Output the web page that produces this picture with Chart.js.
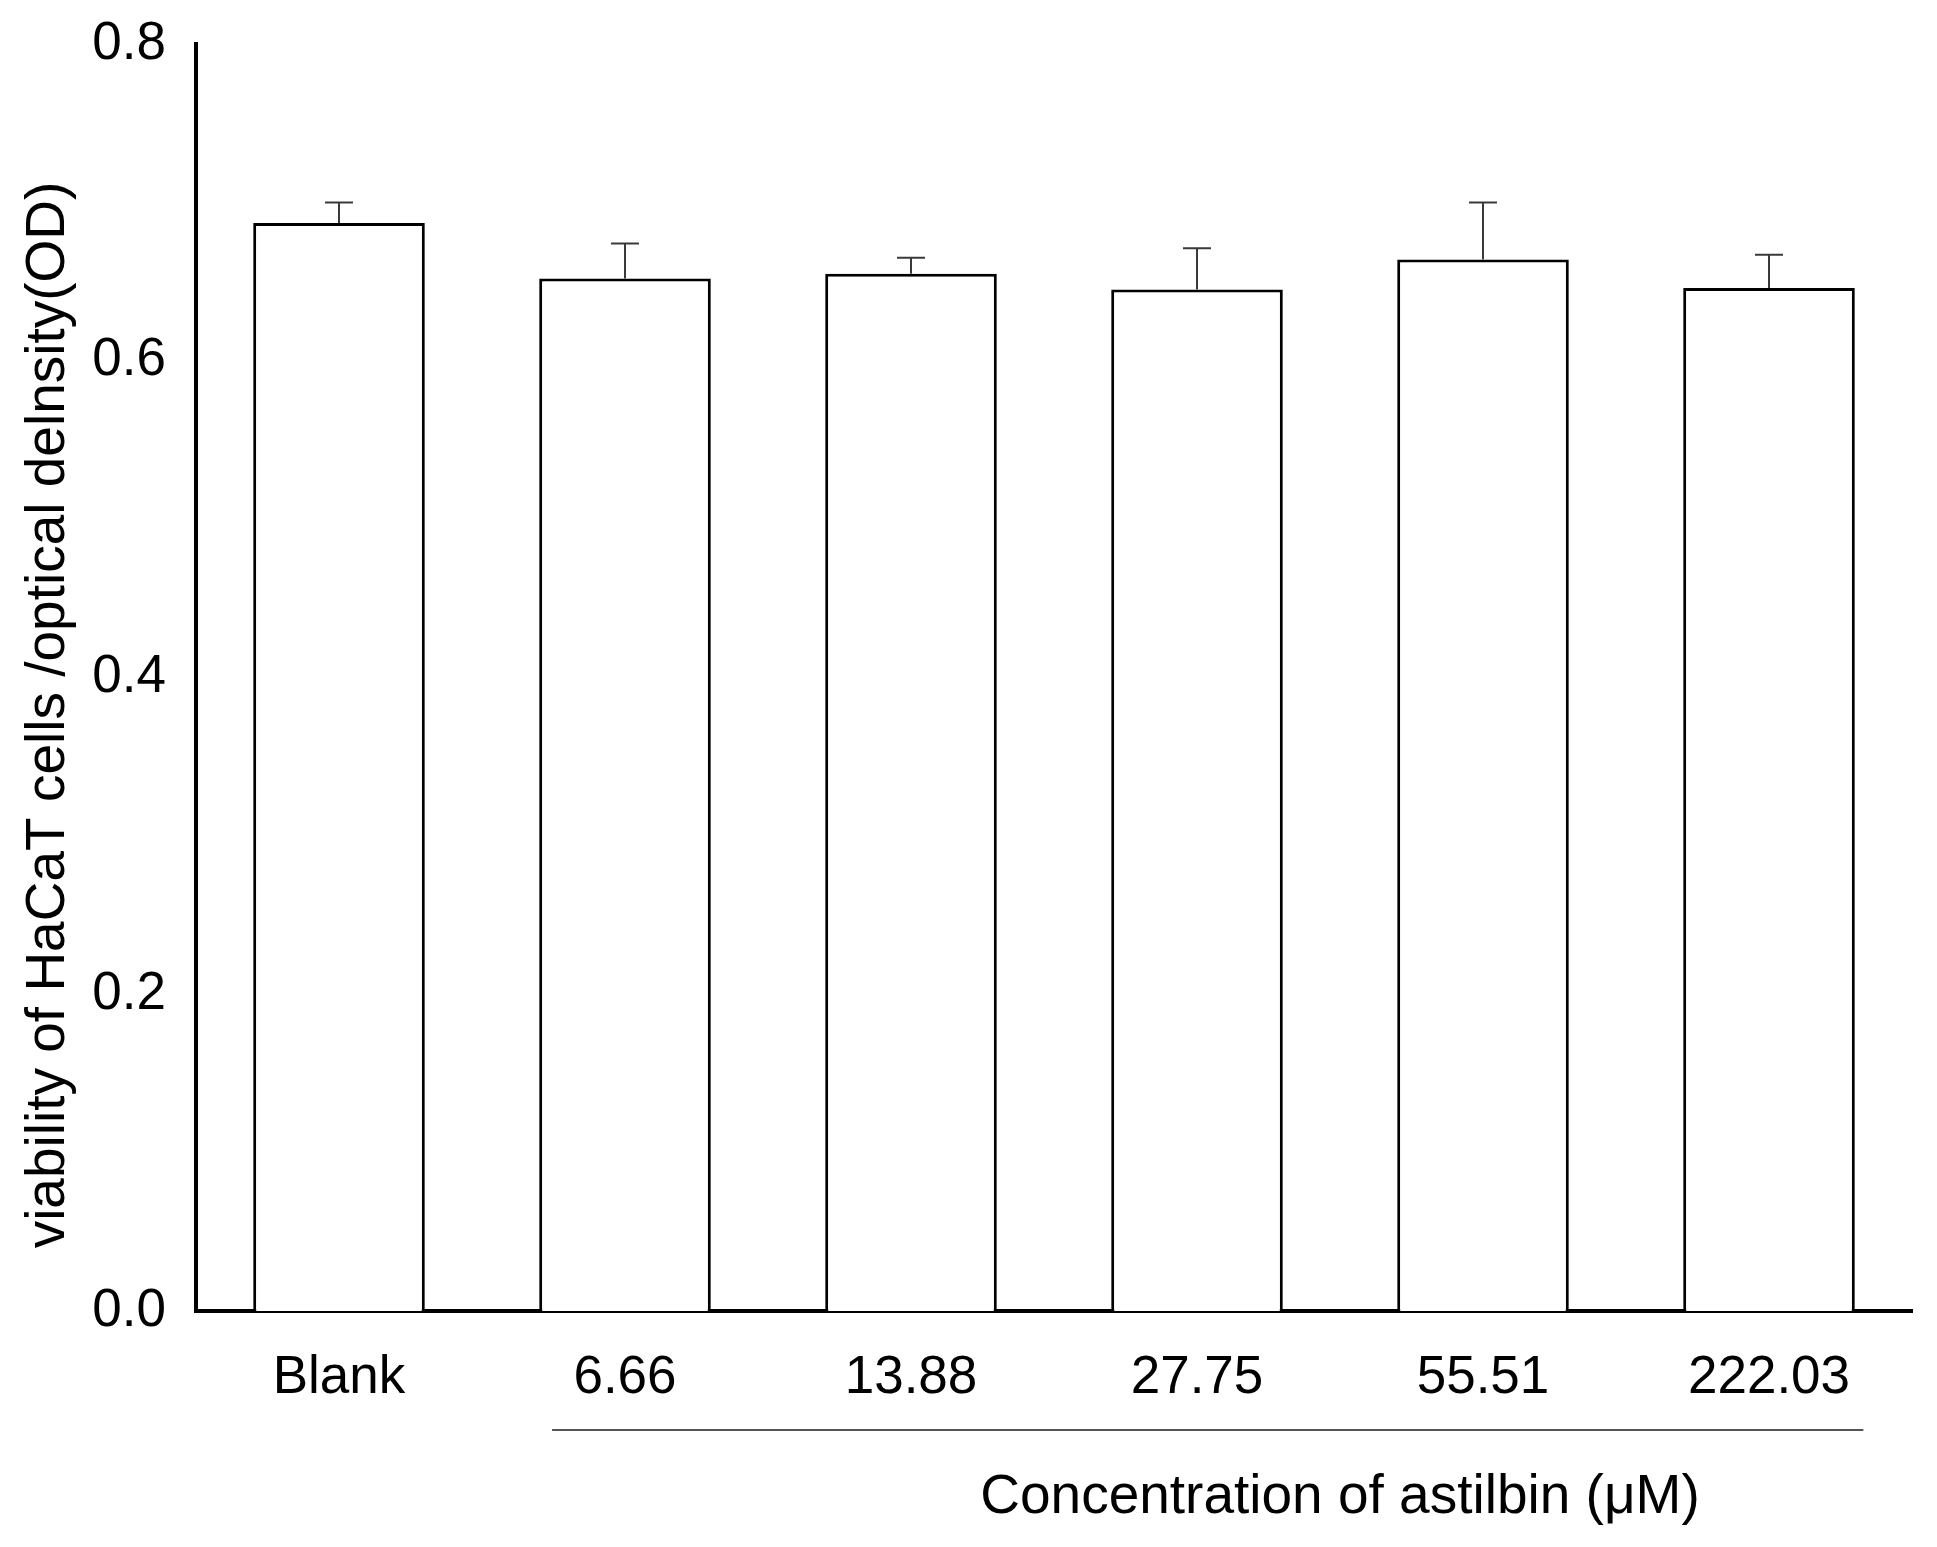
<!DOCTYPE html>
<html>
<head>
<meta charset="utf-8">
<script src="https://cdn.jsdelivr.net/npm/chart.js@4"></script>
<style>
  html, body { margin: 0; padding: 0; background: #fff; }
  #wrap { width: 1937px; height: 1547px; position: relative; }
</style>
</head>
<body>
<div id="wrap"><canvas id="chart" width="1937" height="1547"></canvas></div>
<script>
// data
var categories = ['Blank', '6.66', '13.88', '27.75', '55.51', '222.03'];
var viability = [0.687, 0.652, 0.655, 0.645, 0.664, 0.646];
var errors = [0.013, 0.022, 0.010, 0.026, 0.036, 0.021];
var yTicks = [0, 0.2, 0.4, 0.6, 0.8];

var yTitle = 'viability of HaCaT cells /optical delnsity(OD)';
var xTitle = 'Concentration of astilbin (\u03bcM)';
var FONT = '"Liberation Sans", Arial, sans-serif';

var extras = {
    id: 'extras',
    afterDatasetsDraw: function (chart) {
        var ctx = chart.ctx;
        var y = chart.scales.y;
        var meta = chart.getDatasetMeta(0);
        ctx.save();
        // error bars (upper only)
        ctx.strokeStyle = '#3a3a3a';
        ctx.lineWidth = 2;
        meta.data.forEach(function (bar, i) {
            var top = y.getPixelForValue(viability[i] + errors[i]);
            var base = y.getPixelForValue(viability[i]);
            ctx.beginPath();
            ctx.moveTo(bar.x, base);
            ctx.lineTo(bar.x, top);
            ctx.moveTo(bar.x - 14, top);
            ctx.lineTo(bar.x + 14, top);
            ctx.stroke();
        });
        ctx.restore();
    },
    afterDraw: function (chart) {
        var ctx = chart.ctx;
        var x = chart.scales.x;
        var step = x.getPixelForValue(1) - x.getPixelForValue(0);
        ctx.save();
        // bracket line under the concentration labels
        ctx.strokeStyle = '#555';
        ctx.lineWidth = 2;
        ctx.beginPath();
        ctx.moveTo(x.getPixelForValue(1) - 0.255 * step, 1430);
        ctx.lineTo(x.getPixelForValue(5) + 0.33 * step, 1430);
        ctx.stroke();
        // x title
        ctx.fillStyle = '#000';
        ctx.font = '55px ' + FONT;
        ctx.textAlign = 'center';
        ctx.textBaseline = 'alphabetic';
        ctx.fillText(xTitle, (x.getPixelForValue(3) + x.getPixelForValue(4)) / 2, 1513);
        // y title
        ctx.translate(64, 715);
        ctx.rotate(-Math.PI / 2);
        ctx.fillText(yTitle, 0, 0);
        ctx.restore();
    }
};

new Chart(document.getElementById('chart'), {
    type: 'bar',
    data: {
        labels: categories,
        datasets: [{
            data: viability,
            backgroundColor: '#fff',
            borderColor: '#000',
            borderWidth: 3,
            borderSkipped: 'bottom',
            categoryPercentage: 1,
            barPercentage: 0.6
        }]
    },
    options: {
        responsive: false,
        animation: false,
        devicePixelRatio: 1,
        layout: { padding: { left: 0, right: 25, top: 44, bottom: 0 } },
        plugins: { legend: { display: false }, tooltip: { enabled: false } },
        scales: {
            x: {
                z: 1,
                grid: { display: false },
                border: { display: true, color: '#000', width: 4 },
                ticks: { color: '#000', font: { family: FONT, size: 53 }, padding: 28, maxRotation: 0 },
                afterFit: function (s) { s.height = 236; s.paddingLeft = 0; s.paddingRight = 0; }
            },
            y: {
                z: 1,
                min: 0,
                max: 0.8,
                afterBuildTicks: function (s) { s.ticks = yTicks.map(function (v) { return { value: v }; }); },
                grid: { display: false },
                border: { display: true, color: '#000', width: 4 },
                ticks: {
                    color: '#000',
                    font: { family: FONT, size: 53 },
                    padding: 22,
                    callback: function (v) { return Number(v).toFixed(1); }
                },
                afterFit: function (s) { s.width = 196; s.paddingTop = 0; s.paddingBottom = 0; }
            }
        }
    },
    plugins: [extras]
});
</script>
</body>
</html>
